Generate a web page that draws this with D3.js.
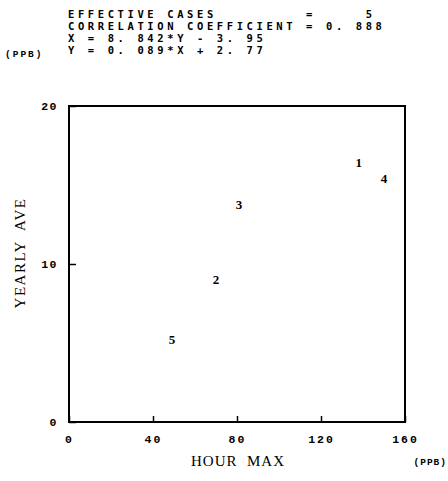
<!DOCTYPE html>
<html>
<head>
<meta charset="utf-8">
<script src="https://cdn.jsdelivr.net/npm/d3@7"></script>
<style>
  body { margin: 0; background: #fff; }
  svg { display: block; }
  .mono { font-family: "Liberation Mono", "DejaVu Sans Mono", monospace; font-weight: bold; }
  .head { font-family: "DejaVu Sans Mono", monospace; font-weight: bold; }
  .serif { font-family: "Liberation Serif", serif; }
</style>
</head>
<body>
<div id="chart"></div>
<script>
// case numbers and their values (hour max vs yearly average, ppb)
var caseIds = ["1", "2", "3", "4", "5"];
var hourMax = [138, 70, 81, 150, 49];
var yearlyAve = [16.4, 9.0, 13.8, 15.4, 5.2];

var xTicks = [0, 40, 80, 120, 160];
var yTicks = [0, 10, 20];

var headerLines = [
  "EFFECTIVE CASES         =     5",
  "CORRELATION COEFFICIENT = 0. 888",
  "X = 8. 842*Y - 3. 95",
  "Y = 0. 089*X + 2. 77"
];

var width = 448, height = 481;
var margin = {top: 106, right: 43, bottom: 59, left: 69};

var svg = d3.select("#chart").append("svg")
  .attr("width", width)
  .attr("height", height);

var xScale = d3.scaleLinear().domain([0, 160]).range([margin.left, width - margin.right]);
var yScale = d3.scaleLinear().domain([0, 20]).range([height - margin.bottom, margin.top]);

// header block
svg.append("g")
  .selectAll("text")
  .data(headerLines)
  .enter()
  .append("text")
  .attr("class", "head")
  .attr("x", 68)
  .attr("y", (d, i) => 18 + i * 12)
  .attr("font-size", 10.5)
  .attr("letter-spacing", 3.6)
  .attr("xml:space", "preserve")
  .style("white-space", "pre")
  .text(d => d);

svg.append("text")
  .attr("class", "mono")
  .attr("x", 5).attr("y", 57)
  .attr("font-size", 9.5)
  .attr("letter-spacing", 2)
  .text("(PPB)");

// x axis
var xAxis = d3.axisBottom(xScale)
  .tickValues(xTicks)
  .tickSize(-6)
  .tickPadding(13);

var gx = svg.append("g")
  .attr("transform", `translate(0,${yScale(0)})`)
  .call(xAxis);
gx.select(".domain").remove();
gx.selectAll("line").attr("stroke-width", 1.5);
gx.selectAll("text")
  .attr("class", "mono")
  .attr("font-size", 11.5)
  .attr("letter-spacing", 2)
  .attr("fill", "#000");

// y axis
var yAxis = d3.axisLeft(yScale)
  .tickValues(yTicks)
  .tickSize(-7)
  .tickPadding(11);

var gy = svg.append("g")
  .attr("transform", `translate(${xScale(0)},0)`)
  .call(yAxis);
gy.select(".domain").remove();
gy.selectAll("line").attr("stroke-width", 1.5);
gy.selectAll("text")
  .attr("class", "mono")
  .attr("font-size", 11.5)
  .attr("letter-spacing", 1.5)
  .attr("fill", "#000");

// frame
svg.append("rect")
  .attr("x", xScale(0))
  .attr("y", yScale(20))
  .attr("width", xScale(160) - xScale(0))
  .attr("height", yScale(0) - yScale(20))
  .attr("fill", "none")
  .attr("stroke", "#000")
  .attr("stroke-width", 2);

// points drawn as their case numbers
var points = caseIds.map((id, i) => ({id: id, x: hourMax[i], y: yearlyAve[i]}));

svg.append("g")
  .selectAll("text")
  .data(points)
  .enter()
  .append("text")
  .attr("class", "serif")
  .attr("x", d => xScale(d.x))
  .attr("y", d => yScale(d.y))
  .attr("dy", "0.35em")
  .attr("text-anchor", "middle")
  .attr("font-size", 13)
  .attr("font-weight", "bold")
  .text(d => d.id);

// axis titles
svg.append("text")
  .attr("class", "serif")
  .attr("x", 238).attr("y", 466)
  .attr("text-anchor", "middle")
  .attr("font-size", 15)
  .attr("letter-spacing", 1)
  .attr("xml:space", "preserve")
  .style("white-space", "pre")
  .text("HOUR  MAX");

svg.append("text")
  .attr("class", "mono")
  .attr("x", 447).attr("y", 465)
  .attr("text-anchor", "end")
  .attr("font-size", 9.5)
  .attr("letter-spacing", 1)
  .text("(PPB)");

svg.append("text")
  .attr("class", "serif")
  .attr("transform", "translate(25,253) rotate(-90)")
  .attr("text-anchor", "middle")
  .attr("font-size", 15)
  .attr("letter-spacing", 1.5)
  .attr("xml:space", "preserve")
  .style("white-space", "pre")
  .text("YEARLY  AVE");
</script>
</body>
</html>
